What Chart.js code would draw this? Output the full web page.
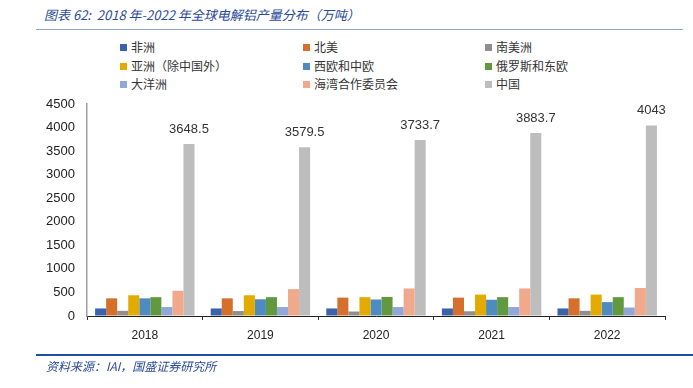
<!DOCTYPE html>
<html>
<head>
<meta charset="utf-8">
<script src="https://cdn.jsdelivr.net/npm/chart.js@4.4.1/dist/chart.umd.min.js"></script>
<style>
  body { margin: 0; background: #fff; }
  #wrap { position: relative; width: 693px; height: 388px; overflow: hidden; }
  #title {
    position: absolute; left: 44px; top: 5px;
    font: italic 13px "Noto Sans CJK SC", sans-serif; color: #2a4a9a;
  }
  #titleLine { position: absolute; left: 36px; right: 10px; top: 29px; height: 1px; background: #8ea3c9; }
  #footLine { position: absolute; left: 36px; right: 0; top: 354px; height: 2px; background: #1f50a0; }
  #source {
    position: absolute; left: 46px; top: 357px;
    font: italic 12px "Noto Sans CJK SC", sans-serif; color: #2a4a9a;
  }
  #legend { position: absolute; left: 0; top: 0; }
  .lg { position: absolute; font: 12px "Noto Sans CJK SC", sans-serif; color: #333; white-space: nowrap; line-height: 14px; }
  .lg i { display: inline-block; width: 7px; height: 7px; margin-right: 4px; vertical-align: 1px; }
  canvas { position: absolute; left: 0; top: 0; }
</style>
</head>
<body>
<div id="wrap">
  <div id="title">图表 62:&nbsp; 2018 年-2022 年全球电解铝产量分布（万吨）</div>
  <div id="titleLine"></div>
  <div id="legend"></div>
  <canvas id="c" width="693" height="388"></canvas>
  <div id="footLine"></div>
  <div id="source">资料来源：IAI，国盛证券研究所</div>
</div>
<script>
const years = ["2018", "2019", "2020", "2021", "2022"];

const seriesNames = ["非洲", "北美", "南美洲", "亚洲（除中国外）", "西欧和中欧",
  "俄罗斯和东欧", "大洋洲", "海湾合作委员会", "中国"];
const colors = ["#3a62ad", "#d46f2c", "#8f8f8f", "#e3ab00", "#4e8bc0",
  "#62993e", "#90a7d8", "#f0a98a", "#bdbdbd"];

const africa = [160, 160, 160, 160, 160];
const northAmerica = [375, 375, 390, 390, 375];
const southAmerica = [110, 105, 95, 100, 110];
const asiaExChina = [440, 440, 400, 455, 455];
const westCentralEurope = [375, 355, 350, 345, 295];
const russiaEastEurope = [400, 400, 405, 400, 400];
const oceania = [190, 190, 190, 190, 180];
const gcc = [535, 570, 585, 585, 595];
const china = [3648.5, 3579.5, 3733.7, 3883.7, 4043];

const yTicks = [0, 500, 1000, 1500, 2000, 2500, 3000, 3500, 4000, 4500];

const seriesData = [africa, northAmerica, southAmerica, asiaExChina, westCentralEurope,
  russiaEastEurope, oceania, gcc, china];

// legend, 3 columns
const legendCols = [120, 303, 485];
const legendRows = [40, 58.5, 76.5];
const legendEl = document.getElementById("legend");
seriesNames.forEach((name, i) => {
  const d = document.createElement("div");
  d.className = "lg";
  d.style.left = legendCols[i % 3] + "px";
  d.style.top = legendRows[Math.floor(i / 3)] + "px";
  d.innerHTML = '<i style="background:' + colors[i] + '"></i>' + name;
  legendEl.appendChild(d);
});

const chinaLabels = {
  id: "chinaLabels",
  afterDatasetsDraw(chart) {
    const ctx = chart.ctx;
    const idx = chart.data.datasets.length - 1;
    const meta = chart.getDatasetMeta(idx);
    ctx.save();
    ctx.font = "13px 'Liberation Sans', sans-serif";
    ctx.fillStyle = "#333";
    ctx.textAlign = "center";
    ctx.textBaseline = "middle";
    meta.data.forEach((bar, i) => {
      ctx.fillText(String(china[i]), bar.x, bar.y - 15);
    });
    ctx.restore();
  },
};

const buildSets = () => {
  const sets = [];
  seriesData.forEach((data, i) => {
    sets.push({
      label: seriesNames[i],
      data: data,
      backgroundColor: colors[i],
      borderWidth: 0,
      barPercentage: 1,
      categoryPercentage: 0.86,
    });
  });
  return sets;
};

new Chart(document.getElementById("c"), {
  type: "bar",
  data: {
    labels: years,
    datasets: buildSets(),
  },
  options: {
    responsive: false,
    animation: false,
    layout: {
      padding: { left: 40, right: 28, top: 104, bottom: 40 },
    },
    scales: {
      x: {
        grid: {
          offset: true,
          drawOnChartArea: false,
          tickLength: 4,
          color: "#333",
        },
        border: { color: "#222", width: 1 },
        ticks: {
          color: "#222",
          font: { family: "Liberation Sans", size: 12 },
          padding: 8,
        },
        afterFit: (scale) => { scale.height = 32; },
      },
      y: {
        min: 0,
        max: 4500,
        afterBuildTicks: (scale) => { scale.ticks = yTicks.map((v) => ({ value: v })); },
        grid: { drawOnChartArea: false, tickLength: 0 },
        border: { color: "#a0a0a0", width: 1.5 },
        ticks: {
          color: "#222",
          font: { family: "Liberation Sans", size: 13 },
          padding: 12,
          callback: (v) => String(v),
        },
        afterFit: (scale) => { scale.width = 47; },
      },
    },
    plugins: {
      legend: { display: false },
      tooltip: { enabled: false },
    },
  },
  plugins: [chinaLabels],
});
</script>
</body>
</html>
